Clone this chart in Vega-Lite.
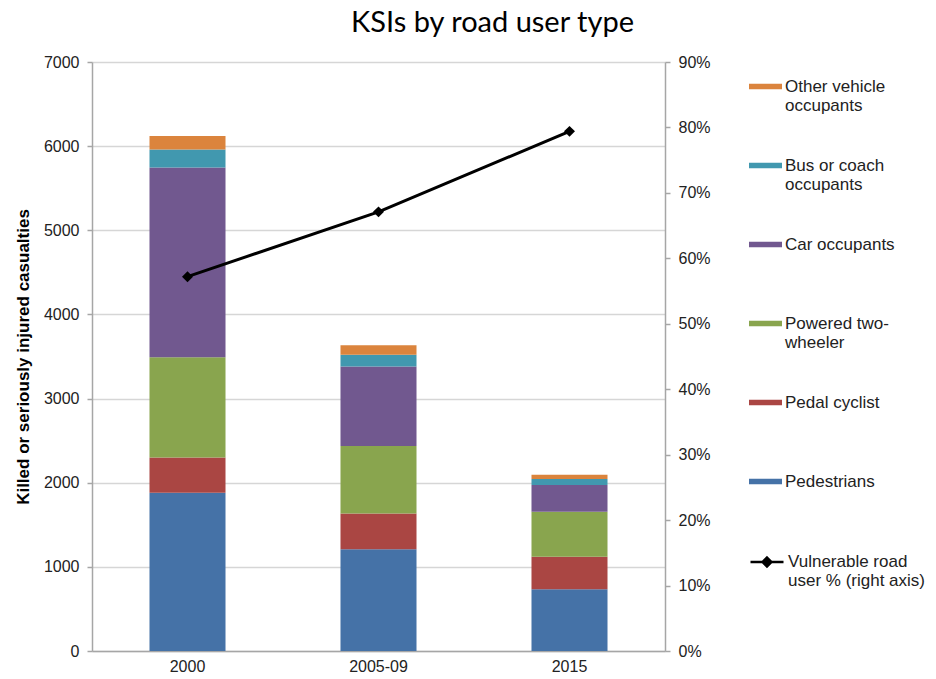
{
  "$schema": "https://vega.github.io/schema/vega-lite/v6.json",
  "width": 573,
  "height": 589,
  "autosize": {"type": "none"},
  "padding": {"left": 92, "top": 62, "right": 271, "bottom": 28},
  "background": "white",
  "title": {
    "text": "KSIs by road user type",
    "font": "Lato",
    "fontSize": 29,
    "fontWeight": "normal",
    "color": "#000",
    "anchor": "middle",
    "frame": "group",
    "dx": 114,
    "baseline": "alphabetic",
    "offset": -7
  },
  "config": {
    "view": {"stroke": null},
    "font": "Liberation Sans",
    "axis": {
      "labelFont": "Liberation Sans",
      "labelFontSize": 16,
      "labelColor": "#222",
      "domainColor": "#a6a6a6",
      "tickColor": "#a6a6a6",
      "domainWidth": 1.5,
      "tickWidth": 1.5
    }
  },
  "datasets": {
    "bars": [
      {"period": "2000", "type": "Pedestrians", "ksi": 1880},
      {"period": "2000", "type": "Pedal cyclist", "ksi": 420},
      {"period": "2000", "type": "Powered two-wheeler", "ksi": 1190},
      {"period": "2000", "type": "Car occupants", "ksi": 2255},
      {"period": "2000", "type": "Bus or coach occupants", "ksi": 215},
      {"period": "2000", "type": "Other vehicle occupants", "ksi": 160},
      {"period": "2005-09", "type": "Pedestrians", "ksi": 1210},
      {"period": "2005-09", "type": "Pedal cyclist", "ksi": 425},
      {"period": "2005-09", "type": "Powered two-wheeler", "ksi": 800},
      {"period": "2005-09", "type": "Car occupants", "ksi": 945},
      {"period": "2005-09", "type": "Bus or coach occupants", "ksi": 140},
      {"period": "2005-09", "type": "Other vehicle occupants", "ksi": 115},
      {"period": "2015", "type": "Pedestrians", "ksi": 735},
      {"period": "2015", "type": "Pedal cyclist", "ksi": 385},
      {"period": "2015", "type": "Powered two-wheeler", "ksi": 535},
      {"period": "2015", "type": "Car occupants", "ksi": 318},
      {"period": "2015", "type": "Bus or coach occupants", "ksi": 72},
      {"period": "2015", "type": "Other vehicle occupants", "ksi": 50}
    ],
    "share": [
      {"period": "2000", "series": "Vulnerable road user % (right axis)", "pct": 0.572},
      {"period": "2005-09", "series": "Vulnerable road user % (right axis)", "pct": 0.671},
      {"period": "2015", "series": "Vulnerable road user % (right axis)", "pct": 0.794}
    ]
  },
  "encoding": {
    "x": {
      "field": "period",
      "type": "nominal",
      "sort": ["2000", "2005-09", "2015"],
      "scale": {"paddingInner": 0.602, "paddingOuter": 0.301},
      "axis": {"title": null, "labelAngle": 0, "ticks": false, "labelPadding": 7}
    }
  },
  "layer": [
    {
      "data": {"name": "bars"},
      "transform": [
        {"calculate": "indexof(['Pedestrians','Pedal cyclist','Powered two-wheeler','Car occupants','Bus or coach occupants','Other vehicle occupants'], datum.type)", "as": "stackOrder"}
      ],
      "mark": {"type": "bar"},
      "encoding": {
        "y": {
          "field": "ksi",
          "type": "quantitative",
          "stack": "zero",
          "scale": {"domain": [0, 7000], "nice": false},
          "axis": {
            "title": "Killed or seriously injured casualties",
            "titleFont": "Liberation Sans",
            "titleFontSize": 17,
            "titleFontWeight": "bold",
            "titleColor": "#000",
            "titlePadding": 11,
            "values": [0, 1000, 2000, 3000, 4000, 5000, 6000, 7000],
            "format": "d",
            "grid": true,
            "gridColor": "#d6d6d6",
            "gridWidth": 1.5,
            "tickSize": 5,
            "labelPadding": 8
          }
        },
        "order": {"field": "stackOrder", "type": "quantitative"},
        "fill": {
          "field": "type",
          "type": "nominal",
          "scale": {
            "domain": ["Other vehicle occupants", "Bus or coach occupants", "Car occupants", "Powered two-wheeler", "Pedal cyclist", "Pedestrians"],
            "range": ["#DB843D", "#4198AF", "#71588F", "#89A54E", "#AA4643", "#4572A7"]
          },
          "legend": {
            "title": null,
            "orient": "none",
            "legendX": 657,
            "legendY": 8,
            "padding": 0,
            "symbolType": "M-1,-0.16H1V0.16H-1Z",
            "symbolSize": 1089,
            "symbolStrokeWidth": 0,
            "labelFont": "Liberation Sans",
            "labelFontSize": 17,
            "labelColor": "#222",
            "labelOffset": 3,
            "labelLimit": 300,
            "labelBaseline": "middle",
            "rowPadding": 35,
            "labelExpr": "datum.label == 'Other vehicle occupants' ? ['Other vehicle', 'occupants'] : datum.label == 'Bus or coach occupants' ? ['Bus or coach', 'occupants'] : datum.label == 'Powered two-wheeler' ? ['Powered two-', 'wheeler'] : [datum.label, '']"
          }
        }
      }
    },
    {
      "data": {"name": "share"},
      "encoding": {
        "y": {
          "field": "pct",
          "type": "quantitative",
          "scale": {"domain": [0, 0.9], "nice": false},
          "axis": {
            "orient": "right",
            "title": null,
            "values": [0, 0.1, 0.2, 0.3, 0.4, 0.5, 0.6, 0.7, 0.8, 0.9],
            "format": ".0%",
            "grid": false,
            "tickSize": 5,
            "labelPadding": 8
          }
        }
      },
      "layer": [
        {
          "mark": {"type": "line", "strokeWidth": 3},
          "encoding": {
            "stroke": {
              "field": "series",
              "type": "nominal",
              "scale": {"range": ["#000000"]},
              "legend": {
                "title": null,
                "orient": "none",
                "legendX": 657,
                "legendY": 482,
                "padding": 0,
                "symbolType": "M-1,0H1M0,-0.27L0.27,0L0,0.27L-0.27,0Z",
                "symbolSize": 1089,
                "symbolStrokeWidth": 2.5,
                "symbolFillColor": "#000",
                "labelFont": "Liberation Sans",
                "labelFontSize": 17,
                "labelColor": "#222",
                "labelOffset": 3,
                "labelLimit": 300,
                "labelBaseline": "middle",
                "labelExpr": "['Vulnerable road', 'user % (right axis)']"
              }
            }
          }
        },
        {
          "mark": {"type": "point", "shape": "diamond", "filled": true, "color": "#000", "size": 120, "opacity": 1}
        }
      ]
    }
  ],
  "resolve": {"scale": {"y": "independent"}}
}
